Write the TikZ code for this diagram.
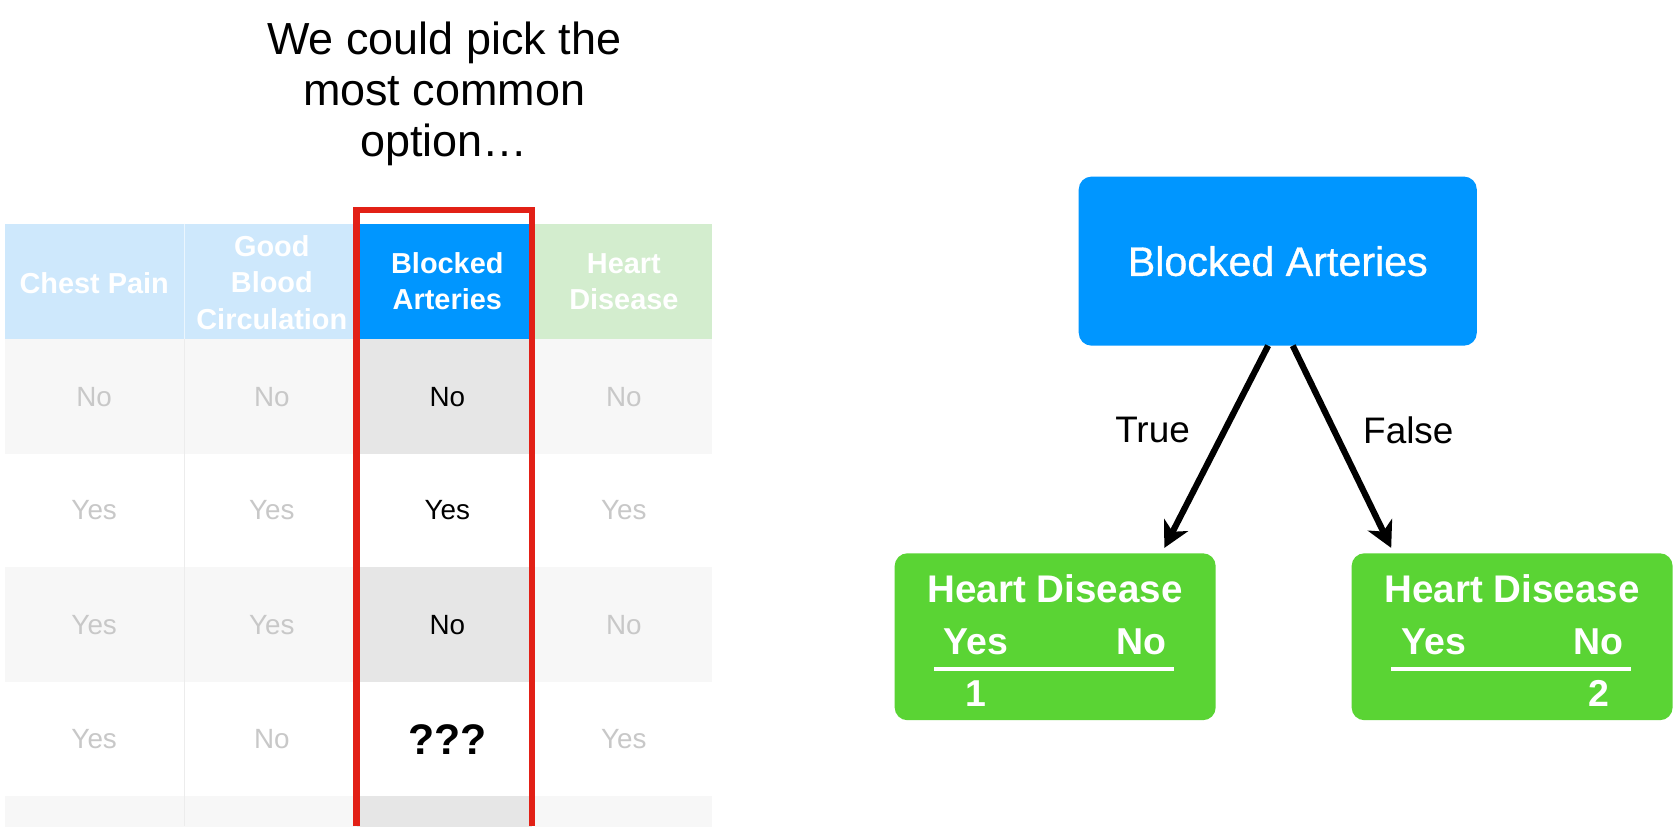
\documentclass[tikz,border=0pt]{standalone}
\usepackage{fontspec}
\setmainfont{Liberation Sans}
\newfontfamily\medfont[FakeBold=0.8]{Liberation Sans}
\usetikzlibrary{arrows.meta,calc}
\definecolor{hdrblue}{RGB}{206,232,252}
\definecolor{hdrgreen}{RGB}{211,237,206}
\definecolor{selblue}{RGB}{0,150,255}
\definecolor{rowgray}{RGB}{247,247,247}
\definecolor{selgray}{RGB}{230,230,230}
\definecolor{txtgray}{RGB}{200,200,200}
\definecolor{sepgray}{RGB}{236,236,236}
\definecolor{boxred}{RGB}{226,32,22}
\definecolor{leafgreen}{RGB}{90,212,52}
\tikzset{
  hdrtext/.style={text=white,font=\fontsize{27}{34}\selectfont\bfseries,align=center},
  celltext/.style={text=txtgray,font=\fontsize{26}{30}\selectfont},
  seltext/.style={text=black,font=\fontsize{26}{30}\selectfont},
  rootbox/.style={fill=selblue,rounded corners=12pt,minimum width=372pt,minimum height=158pt,inner sep=0pt,text=white,font=\medfont\fontsize{38.5}{44}\selectfont},
  leafbox/.style={fill=leafgreen,rounded corners=12pt,minimum width=300pt,minimum height=156pt,inner sep=0pt},
  leaftext/.style={text=white,font=\fontsize{35}{40}\selectfont\bfseries},
  edgelabel/.style={text=black,font=\fontsize{34.5}{40}\selectfont},
  treearrow/.style={line width=5.8pt,-{Stealth[length=24pt,width=25pt,inset=7pt]}}
}
\begin{document}
\begin{tikzpicture}[x=1pt,y=-1pt]
\useasboundingbox (0,0) rectangle (1568,772);
\fill[white] (0,0) rectangle (1568,772);
% title
\node[align=center,font=\fontsize{42}{47.5}\selectfont] (title) at (415,88) {We could pick the\\most common\\option…};
% header
\fill[hdrblue] (5,209) rectangle (334,317);
\fill[selblue] (334,209) rectangle (497,317);
\fill[hdrgreen] (500,209) rectangle (665,317);
\draw[white!60!hdrblue,line width=1pt] (172,209) -- (172,317);
% body rows
\foreach \y in {317,530,744}{
  \fill[rowgray] (5,\y) rectangle (334,{\y+107});
  \fill[selgray] (334,\y) rectangle (497,{\y+107});
  \fill[rowgray] (500,\y) rectangle (665,{\y+107});
}
\draw[sepgray,line width=1pt] (172,317) -- (172,772);
% header texts
\node[hdrtext] (h1) at (88,265) {Chest Pain};
\node[hdrtext] (h2) at (254,264) {Good\\Blood\\Circulation};
\node[hdrtext] (h3) at (418,263) {Blocked\\Arteries};
\node[hdrtext] (h4) at (583,263) {Heart\\Disease};
% cells
\node[celltext] (r1c1) at (88,371) {No};
\node[celltext] (r1c2) at (254,371) {No};
\node[seltext]  (r1c3) at (418,371) {No};
\node[celltext] (r1c4) at (583,371) {No};
\node[celltext] (r2c1) at (88,477) {Yes};
\node[celltext] (r2c2) at (254,477) {Yes};
\node[seltext]  (r2c3) at (418,477) {Yes};
\node[celltext] (r2c4) at (583,477) {Yes};
\node[celltext] (r3c1) at (88,584) {Yes};
\node[celltext] (r3c2) at (254,584) {Yes};
\node[seltext]  (r3c3) at (418,584) {No};
\node[celltext] (r3c4) at (583,584) {No};
\node[celltext] (r4c1) at (88,691) {Yes};
\node[celltext] (r4c2) at (254,691) {No};
\node[text=black,font=\fontsize{40}{44}\selectfont\bfseries] (r4c3) at (418,691) {???};
\node[celltext] (r4c4) at (583,691) {Yes};
% red highlight
\draw[boxred,line width=6pt] (333,772) -- (333,196) -- (497,196) -- (497,772);
% tree
\node[rootbox] (root) at (1194,244) {Blocked Arteries};
\node[leafbox] (leafL) at (986,595) {};
\node[leafbox] (leafR) at (1413,595) {};
\coordinate (sL) at (1185,323);
\coordinate (sR) at (1208,323);
\coordinate (eL) at (1088,512);
\coordinate (eR) at (1300,512);
\draw[treearrow] (sL) -- (eL);
\draw[treearrow] (sR) -- (eR);
\node[edgelabel] (lt) at (1077,402) {True};
\node[edgelabel] (lf) at (1316,402) {False};
% leaf contents
\node[leaftext,font=\fontsize{36}{40}\selectfont\bfseries] (lLt) at (986,550) {Heart Disease};
\node[leaftext] (lLy) at (912,600) {Yes};
\node[leaftext] (lLn) at (1067,600) {No};
\draw[white,line width=3.5pt] (873,625) -- (1097,625);
\node[leaftext] (lL1) at (912,648) {1};
\node[leaftext,font=\fontsize{36}{40}\selectfont\bfseries] (lRt) at (1413,550) {Heart Disease};
\node[leaftext] (lRy) at (1340,600) {Yes};
\node[leaftext] (lRn) at (1494,600) {No};
\draw[white,line width=3.5pt] (1300,625) -- (1524,625);
\node[leaftext] (lR2) at (1494,648) {2};
\end{tikzpicture}
\end{document}
